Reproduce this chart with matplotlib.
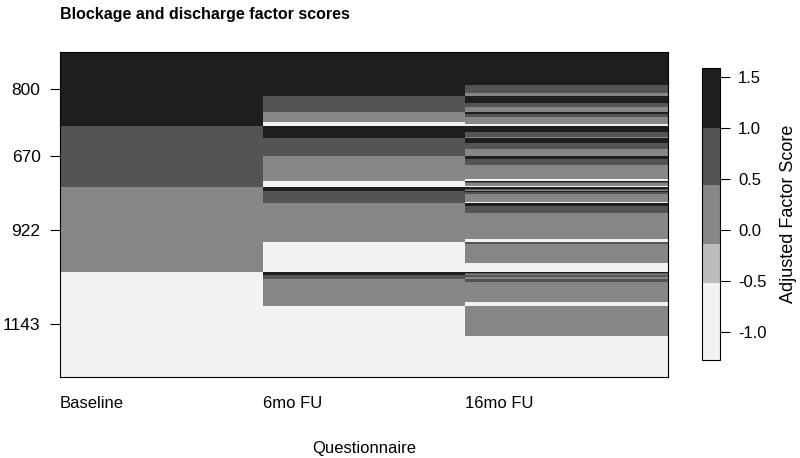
import numpy as np
import matplotlib as mpl
import matplotlib.pyplot as plt
from matplotlib.colors import ListedColormap, BoundaryNorm

plt.rcParams["font.family"] = ["Liberation Sans", "DejaVu Sans"]

# colour scale (5 bins, light -> dark)
BREAKS = [-1.27, -0.52, -0.13, 0.44, 1.0, 1.59]
GREYS = ["#f2f2f2", "#bcbcbc", "#878787", "#545454", "#1e1e1e"]
CBAR_TICKS = [-1.0, -0.5, 0.0, 0.5, 1.0, 1.5]

# score level of each group, high -> low (black, dark, mid, white)
LEVEL_SCORES = [1.30, 0.72, 0.15, -0.90]

TIMEPOINTS = ["Baseline", "6mo FU", "16mo FU"]

# subjects per baseline level
baseline_n = [800, 670, 922, 1143]

# subjects per 6mo level, within each baseline level
fu6_n = [
    [479, 174, 109, 38],
    [136, 196, 272, 66],
    [44, 130, 422, 326],
    [33, 44, 294, 772],
]

# subjects per 16mo level, within each (baseline, 6mo) cell
fu16_n = [
    [[359, 87, 33, 0], [76, 44, 54, 0], [22, 33, 54, 0], [0, 0, 22, 16]],
    [[71, 54, 11, 0], [54, 65, 77, 0], [33, 65, 152, 22], [5, 11, 33, 17]],
    [[16, 11, 17, 0], [5, 27, 87, 11], [27, 76, 281, 38], [0, 22, 207, 97]],
    [[11, 11, 11, 0], [5, 22, 17, 0], [0, 33, 218, 43], [0, 5, 326, 441]],
]


def build_matrix():
    rows = []
    for b in range(4):
        for s in range(4):
            for f in range(4):
                rows += [(b, s, f)] * fu16_n[b][s][f]
    idx = np.array(rows)
    return np.array(LEVEL_SCORES)[idx]


def main():
    z = build_matrix()
    n = z.shape[0]
    cmap = ListedColormap(GREYS)
    norm = BoundaryNorm(BREAKS, cmap.N)

    fig = plt.figure(figsize=(8, 4.58), dpi=100)
    ax = fig.add_axes([0.075, 0.177, 0.76, 0.709])
    ax.pcolormesh(np.arange(4), np.arange(n + 1), z, cmap=cmap, norm=norm,
                  shading="flat", snap=True, rasterized=True)
    ax.set_xlim(0, 3)
    ax.set_ylim(n, 0)

    centres = np.cumsum(baseline_n) - np.array(baseline_n) / 2
    ax.set_yticks(centres)
    ax.set_yticklabels([str(v) for v in baseline_n], fontsize=12.5)
    ax.tick_params(axis="y", length=7, width=0.8, pad=7)

    ax.set_xticks([0, 1, 2])
    ax.set_xticklabels(TIMEPOINTS, ha="left", fontsize=12)
    ax.tick_params(axis="x", length=0, pad=14)
    ax.set_xlabel("Questionnaire", fontsize=12, labelpad=21)
    for sp in ax.spines.values():
        sp.set_linewidth(0.8)

    fig.text(0.075, 0.968, "Blockage and discharge factor scores",
             fontsize=11.5, fontweight="bold", ha="left", va="center")

    cax = fig.add_axes([0.8775, 0.214, 0.0225, 0.638])
    cb = mpl.colorbar.ColorbarBase(cax, cmap=cmap, norm=norm,
                                   boundaries=BREAKS, spacing="proportional",
                                   ticks=CBAR_TICKS)
    cb.minorticks_off()
    cb.ax.set_yticklabels([f"{t:.1f}" for t in CBAR_TICKS], fontsize=12)
    cb.ax.tick_params(length=7, width=0.8, pad=6)
    cb.outline.set_linewidth(0.8)
    cb.set_label("Adjusted Factor Score", fontsize=13, labelpad=10)

    fig.savefig("out.png", dpi=100)
    plt.close(fig)


if __name__ == "__main__":
    main()
